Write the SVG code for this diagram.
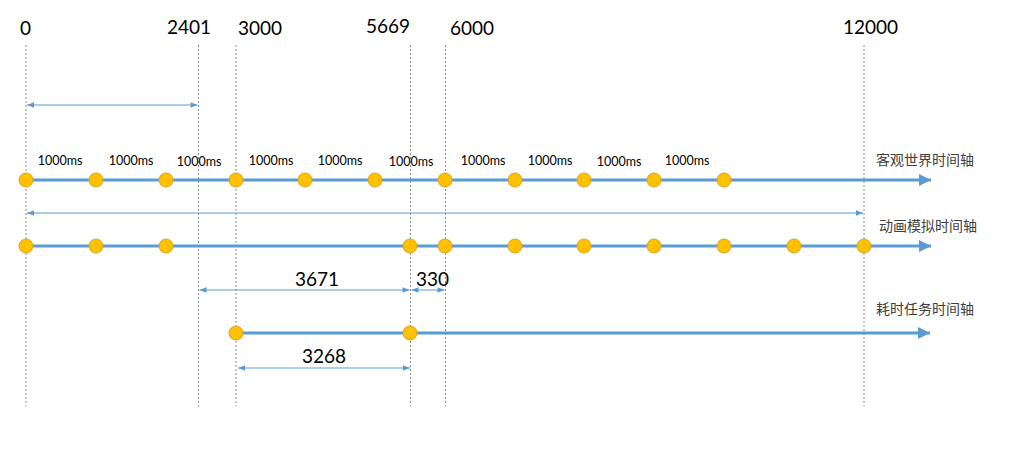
<svg xmlns="http://www.w3.org/2000/svg" width="1027" height="455" viewBox="0 0 1027 455">
<style>
.guide{stroke:#8c8c8c;stroke-width:1;stroke-dasharray:2,2;fill:none}
.axis{stroke:#5B9BD5;stroke-width:3;fill:none}
.dim{stroke:#5B9BD5;stroke-width:1;fill:none}
.dot{fill:#FFC000;stroke:#D9A520;stroke-width:1}
.big{font-family:Lato,"Liberation Sans",sans-serif;font-size:19px;fill:#000}
.ms{font-family:Lato,"Liberation Sans",sans-serif;font-size:12.5px;fill:#000;text-anchor:middle}
.cn{font-family:"Noto Sans CJK SC",sans-serif;font-size:14px;fill:#404040}
</style>
<defs>
<marker id="ah" viewBox="0 0 10 10" refX="10" refY="5" markerWidth="4" markerHeight="4" orient="auto-start-reverse" markerUnits="strokeWidth"><path d="M0,0 L10,5 L0,10 z" fill="#5B9BD5"/></marker>
<marker id="as" viewBox="0 0 10 10" refX="10" refY="5" markerWidth="8" markerHeight="7" orient="auto-start-reverse" markerUnits="strokeWidth"><path d="M0,1 L10,5 L0,9 z" fill="#5B9BD5"/></marker>
</defs>
<g id="guides">
<line class="guide" x1="26" y1="45" x2="26" y2="406"/>
<line class="guide" x1="198.5" y1="45" x2="198.5" y2="406"/>
<line class="guide" x1="236" y1="45" x2="236" y2="406"/>
<line class="guide" x1="410.5" y1="45" x2="410.5" y2="406"/>
<line class="guide" x1="445.5" y1="45" x2="445.5" y2="406"/>
<line class="guide" x1="864" y1="45" x2="864" y2="406"/>
</g>
<g id="top-labels">
<text class="big" x="20" y="35">0</text>
<text class="big" x="167" y="34">2401</text>
<text class="big" x="238" y="35">3000</text>
<text class="big" x="366" y="33">5669</text>
<text class="big" x="450" y="35">6000</text>
<text class="big" x="843" y="34">12000</text>
</g>
<g id="connectors">
<line class="dim" x1="27" y1="105" x2="197.5" y2="105" marker-start="url(#as)" marker-end="url(#as)"/>
<line class="dim" x1="27" y1="213" x2="863" y2="213" marker-start="url(#as)" marker-end="url(#as)"/>
<line class="dim" x1="199.5" y1="290" x2="409.5" y2="290" marker-start="url(#as)" marker-end="url(#as)"/>
<line class="dim" x1="411.5" y1="290" x2="444.5" y2="290" marker-start="url(#as)" marker-end="url(#as)"/>
<line class="dim" x1="238" y1="368" x2="410" y2="368" marker-start="url(#as)" marker-end="url(#as)"/>
</g>
<g id="axis-world">
<line class="axis" x1="26" y1="180" x2="931" y2="180" marker-end="url(#ah)"/>
<circle class="dot" cx="26" cy="180" r="7"/>
<circle class="dot" cx="96" cy="180" r="7"/>
<circle class="dot" cx="166" cy="180" r="7"/>
<circle class="dot" cx="236" cy="180" r="7"/>
<circle class="dot" cx="305" cy="180" r="7"/>
<circle class="dot" cx="375" cy="180" r="7"/>
<circle class="dot" cx="445" cy="180" r="7"/>
<circle class="dot" cx="515" cy="180" r="7"/>
<circle class="dot" cx="584" cy="180" r="7"/>
<circle class="dot" cx="654" cy="180" r="7"/>
<circle class="dot" cx="724" cy="180" r="7"/>
<text class="ms" x="60" y="165">1000ms</text>
<text class="ms" x="131" y="165">1000ms</text>
<text class="ms" x="199" y="166">1000ms</text>
<text class="ms" x="271" y="165">1000ms</text>
<text class="ms" x="340" y="165">1000ms</text>
<text class="ms" x="411" y="166">1000ms</text>
<text class="ms" x="483" y="165">1000ms</text>
<text class="ms" x="550" y="165">1000ms</text>
<text class="ms" x="619" y="166">1000ms</text>
<text class="ms" x="687" y="165">1000ms</text>
<text class="cn" x="876" y="165">客观世界时间轴</text>
</g>
<g id="axis-anim">
<line class="axis" x1="26" y1="246" x2="931" y2="246" marker-end="url(#ah)"/>
<circle class="dot" cx="26" cy="246" r="7"/>
<circle class="dot" cx="96" cy="246" r="7"/>
<circle class="dot" cx="166" cy="246" r="7"/>
<circle class="dot" cx="410" cy="246" r="7"/>
<circle class="dot" cx="445" cy="246" r="7"/>
<circle class="dot" cx="515" cy="246" r="7"/>
<circle class="dot" cx="584" cy="246" r="7"/>
<circle class="dot" cx="654" cy="246" r="7"/>
<circle class="dot" cx="724" cy="246" r="7"/>
<circle class="dot" cx="794" cy="246" r="7"/>
<circle class="dot" cx="864" cy="246" r="7"/>
<text class="cn" x="879" y="231">动画模拟时间轴</text>
</g>
<g id="axis-task">
<line class="axis" x1="236" y1="333" x2="930" y2="333" marker-end="url(#ah)"/>
<circle class="dot" cx="236" cy="333" r="7"/>
<circle class="dot" cx="410" cy="333" r="7"/>
<text class="cn" x="876" y="314">耗时任务时间轴</text>
</g>
<g id="dim-labels">
<text class="big" x="295" y="286">3671</text>
<text class="big" x="416" y="286">330</text>
<text class="big" x="302" y="363">3268</text>
</g>
</svg>
